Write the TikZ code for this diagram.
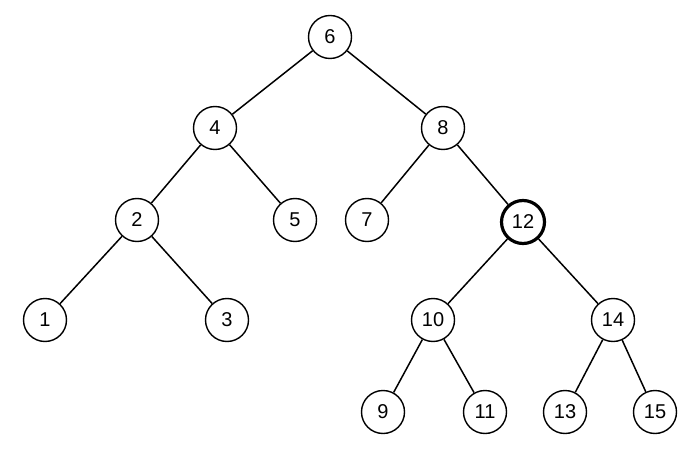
\documentclass[tikz,border=0pt]{standalone}
\usepackage{fontspec}
\setmainfont{Liberation Sans}
\begin{document}
\begin{tikzpicture}[x=1pt, y=-1pt,
    key/.style={circle, draw, line width=1.4pt, minimum size=43pt, inner sep=0pt, font=\fontsize{20}{22}\selectfont, fill=white},
    hot/.style={key, line width=3.2pt},
    edge/.style={line width=1.5pt},
  ]
  \useasboundingbox (0,0) rectangle (700,470);

  % level 0 and 1
  \node[key] (n6) at (330, 37) {6};
  \node[key] (n4) at (215, 128) {4};
  \node[key] (n8) at (443, 128) {8};

  % level 2
  \node[key] (n2) at (137, 220) {2};
  \node[key] (n5) at (295, 220) {5};
  \node[key] (n7) at (367, 220) {7};
  \node[hot] (n12) at (523, 222) {12};

  % level 3
  \node[key] (n1) at (45, 320) {1};
  \node[key] (n3) at (227, 320) {3};
  \node[key] (n10) at (433, 320) {10};
  \node[key] (n14) at (613, 320) {14};

  % level 4
  \node[key] (n9) at (383, 412) {9};
  \node[key] (n11) at (485, 412) {11};
  \node[key] (n13) at (565, 412) {13};
  \node[key] (n15) at (655, 412) {15};

  \foreach \a/\b in {6/4, 6/8, 4/2, 4/5, 8/7, 8/12, 2/1, 2/3,
                     12/10, 12/14, 10/9, 10/11, 14/13, 14/15}
    \draw[edge] (n\a) -- (n\b);

\end{tikzpicture}
\end{document}
